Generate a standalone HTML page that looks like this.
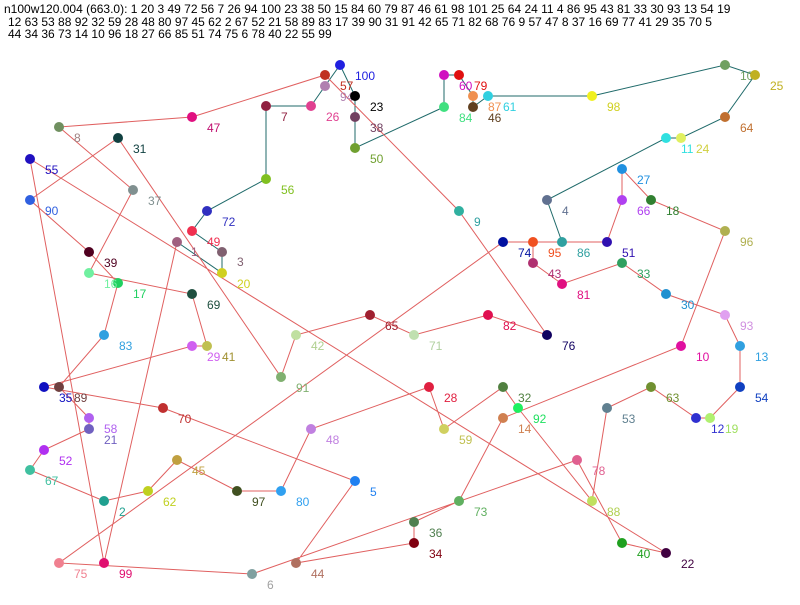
<!DOCTYPE html>
<html><head><meta charset="utf-8"><style>
body{margin:0;background:#fff;width:800px;height:600px;overflow:hidden}
svg text{font-family:"Liberation Sans",sans-serif;font-size:12px}
.h{font-size:12px;fill:#000}
</style></head><body>
<svg width="800" height="600" xmlns="http://www.w3.org/2000/svg">
<text class="h" x="4" y="13">n100w120.004 (663.0): 1 20 3 49 72 56 7 26 94 100 23 38 50 15 84 60 79 87 46 61 98 101 25 64 24 11 4 86 95 43 81 33 30 93 13 54 19</text>
<text class="h" x="8" y="26">12 63 53 88 92 32 59 28 48 80 97 45 62 2 67 52 21 58 89 83 17 39 90 31 91 42 65 71 82 68 76 9 57 47 8 37 16 69 77 41 29 35 70 5</text>
<text class="h" x="8" y="38">44 34 36 73 14 10 96 18 27 66 85 51 74 75 6 78 40 22 55 99</text>
<g fill="none" stroke-width="1">
<polyline stroke="#1f6a6a" points="177,242 222,273 222,252 192,231 207,211 266,179 266,106 311,106 325,86 340,65 355,96 355,117 355,148 355,148 444,107 444,75 459,75 473,96 473,107 488,96 592,96 725,65 755,75 725,117 681,138 666,138 547,200 562,242"/>
<polyline stroke="#e06060" points="562,242 533,242 533,263 562,284 622,263 666,294 725,315 740,346 740,387 710,418 696,418 651,387 607,408 592,501 518,408 503,387 444,429 429,387 311,429 281,491 237,491 177,460 148,491 104,501 30,470 44,450 89,429 89,418 59,387 104,335 118,283 89,252 30,200 118,138 281,377 296,335 370,315 414,335 488,315 488,315 547,335 459,211 325,75 192,117 59,127 133,190 89,273 192,294 207,346 207,346 192,346 44,387 163,408 355,481 296,563 414,543 414,522 459,501 503,418 681,346 725,231 651,200 622,169 622,200 607,242 607,242 503,242 59,563 252,574 577,460 622,543 666,553 30,159 104,563 177,242"/>
</g>
<g id="n">
<circle cx="177" cy="242" r="5" fill="#a06080"/><text x="191" y="256" fill="#a06080">1</text>
<circle cx="222" cy="273" r="5" fill="#d0d020"/><text x="237" y="288" fill="#d0d020">20</text>
<circle cx="222" cy="252" r="5" fill="#806070"/><text x="237" y="266" fill="#806070">3</text>
<circle cx="192" cy="231" r="5" fill="#f03050"/><text x="207" y="246" fill="#f03050">49</text>
<circle cx="207" cy="211" r="5" fill="#3030c0"/><text x="222" y="226" fill="#3030c0">72</text>
<circle cx="266" cy="179" r="5" fill="#80c020"/><text x="281" y="194" fill="#80c020">56</text>
<circle cx="266" cy="106" r="5" fill="#902040"/><text x="281" y="121" fill="#902040">7</text>
<circle cx="311" cy="106" r="5" fill="#e04090"/><text x="326" y="121" fill="#e04090">26</text>
<circle cx="325" cy="86" r="5" fill="#b080b0"/><text x="340" y="101" fill="#b080b0">94</text>
<circle cx="340" cy="65" r="5" fill="#2020e0"/><text x="355" y="80" fill="#2020e0">100</text>
<circle cx="355" cy="96" r="5" fill="#000"/><text x="370" y="111" fill="#000">23</text>
<circle cx="355" cy="117" r="5" fill="#704060"/><text x="370" y="132" fill="#704060">38</text>
<circle cx="355" cy="148" r="5" fill="#70a030"/><text x="370" y="163" fill="#70a030">50</text>
<circle cx="444" cy="107" r="5" fill="#40e080"/><text x="459" y="122" fill="#40e080">84</text>
<circle cx="444" cy="75" r="5" fill="#d010c0"/><text x="459" y="90" fill="#d010c0">60</text>
<circle cx="459" cy="75" r="5" fill="#e01010"/><text x="474" y="90" fill="#e01010">79</text>
<circle cx="473" cy="96" r="5" fill="#f09050"/><text x="488" y="111" fill="#f09050">87</text>
<circle cx="473" cy="107" r="5" fill="#604020"/><text x="488" y="122" fill="#604020">46</text>
<circle cx="488" cy="96" r="5" fill="#30d0e0"/><text x="503" y="111" fill="#30d0e0">61</text>
<circle cx="592" cy="96" r="5" fill="#f0f020"/><text x="607" y="111" fill="#d0d020">98</text>
<circle cx="725" cy="65" r="5" fill="#70a060"/><text x="740" y="80" fill="#70a060">10</text>
<circle cx="755" cy="75" r="5" fill="#c0b020"/><text x="770" y="90" fill="#c0b020">25</text>
<circle cx="725" cy="117" r="5" fill="#c07030"/><text x="740" y="132" fill="#c07030">64</text>
<circle cx="681" cy="138" r="5" fill="#e0f060"/><text x="696" y="153" fill="#d0d040">24</text>
<circle cx="666" cy="138" r="5" fill="#30e0e0"/><text x="681" y="153" fill="#30e0e0">11</text>
<circle cx="547" cy="200" r="5" fill="#607090"/><text x="562" y="215" fill="#607090">4</text>
<circle cx="562" cy="242" r="5" fill="#30a0a0"/><text x="577" y="257" fill="#30a0a0">86</text>
<circle cx="533" cy="242" r="5" fill="#f05020"/><text x="548" y="257" fill="#f05020">95</text>
<circle cx="533" cy="263" r="5" fill="#b03070"/><text x="548" y="278" fill="#b03070">43</text>
<circle cx="562" cy="284" r="5" fill="#e01080"/><text x="577" y="299" fill="#e01080">81</text>
<circle cx="622" cy="263" r="5" fill="#30a060"/><text x="637" y="278" fill="#30a060">33</text>
<circle cx="666" cy="294" r="5" fill="#2090d0"/><text x="681" y="309" fill="#2090d0">30</text>
<circle cx="725" cy="315" r="5" fill="#e0a0f0"/><text x="740" y="330" fill="#d090e0">93</text>
<circle cx="740" cy="346" r="5" fill="#30a0e0"/><text x="755" y="361" fill="#30a0e0">13</text>
<circle cx="740" cy="387" r="5" fill="#1040c0"/><text x="755" y="402" fill="#1040c0">54</text>
<circle cx="710" cy="418" r="5" fill="#b0f070"/><text x="725" y="433" fill="#a0e060">19</text>
<circle cx="696" cy="418" r="5" fill="#3030d0"/><text x="711" y="433" fill="#3030d0">12</text>
<circle cx="651" cy="387" r="5" fill="#709030"/><text x="666" y="402" fill="#709030">63</text>
<circle cx="607" cy="408" r="5" fill="#608090"/><text x="622" y="423" fill="#608090">53</text>
<circle cx="592" cy="501" r="5" fill="#c0e060"/><text x="607" y="516" fill="#b0d050">88</text>
<circle cx="518" cy="408" r="5" fill="#20f060"/><text x="533" y="423" fill="#20e060">92</text>
<circle cx="503" cy="387" r="5" fill="#508040"/><text x="518" y="402" fill="#508040">32</text>
<circle cx="444" cy="429" r="5" fill="#d0d060"/><text x="459" y="444" fill="#c0c050">59</text>
<circle cx="429" cy="387" r="5" fill="#e02040"/><text x="444" y="402" fill="#e02040">28</text>
<circle cx="311" cy="429" r="5" fill="#c080e0"/><text x="326" y="444" fill="#c080e0">48</text>
<circle cx="281" cy="491" r="5" fill="#30a0f0"/><text x="296" y="506" fill="#30a0f0">80</text>
<circle cx="237" cy="491" r="5" fill="#405020"/><text x="252" y="506" fill="#405020">97</text>
<circle cx="177" cy="460" r="5" fill="#c0a040"/><text x="192" y="475" fill="#c0a040">45</text>
<circle cx="148" cy="491" r="5" fill="#c0d020"/><text x="163" y="506" fill="#c0d020">62</text>
<circle cx="104" cy="501" r="5" fill="#20a090"/><text x="119" y="516" fill="#20a090">2</text>
<circle cx="30" cy="470" r="5" fill="#40c0a0"/><text x="45" y="485" fill="#40c0a0">67</text>
<circle cx="44" cy="450" r="5" fill="#b030f0"/><text x="59" y="465" fill="#b030f0">52</text>
<circle cx="89" cy="429" r="5" fill="#7060c0"/><text x="104" y="444" fill="#7060c0">21</text>
<circle cx="89" cy="418" r="5" fill="#b060f0"/><text x="104" y="433" fill="#b060f0">58</text>
<circle cx="59" cy="387" r="5" fill="#704040"/><text x="74" y="402" fill="#704040">89</text>
<circle cx="104" cy="335" r="5" fill="#30a0e0"/><text x="119" y="350" fill="#30a0e0">83</text>
<circle cx="118" cy="283" r="5" fill="#20d060"/><text x="133" y="298" fill="#20d060">17</text>
<circle cx="89" cy="252" r="5" fill="#500020"/><text x="104" y="267" fill="#500020">39</text>
<circle cx="30" cy="200" r="5" fill="#3060e0"/><text x="45" y="215" fill="#3060e0">90</text>
<circle cx="118" cy="138" r="5" fill="#104040"/><text x="133" y="153" fill="#104040">31</text>
<circle cx="281" cy="377" r="5" fill="#80b070"/><text x="296" y="392" fill="#80b070">91</text>
<circle cx="296" cy="335" r="5" fill="#c0e0a0"/><text x="311" y="350" fill="#b0d090">42</text>
<circle cx="370" cy="315" r="5" fill="#a02030"/><text x="385" y="330" fill="#a02030">65</text>
<circle cx="414" cy="335" r="5" fill="#c0e0b0"/><text x="429" y="350" fill="#b0d0a0">71</text>
<circle cx="488" cy="315" r="5" fill="#e01050"/><text x="503" y="330" fill="#e01050">82</text>
<circle cx="547" cy="335" r="5" fill="#100060"/><text x="562" y="350" fill="#100060">76</text>
<circle cx="459" cy="211" r="5" fill="#30b0a0"/><text x="474" y="226" fill="#30a0a0">9</text>
<circle cx="325" cy="75" r="5" fill="#c03020"/><text x="340" y="90" fill="#c03020">57</text>
<circle cx="192" cy="117" r="5" fill="#e01080"/><text x="207" y="132" fill="#c01070">47</text>
<circle cx="59" cy="127" r="5" fill="#709060"/><text x="74" y="142" fill="#a08080">8</text>
<circle cx="133" cy="190" r="5" fill="#809090"/><text x="148" y="205" fill="#809090">37</text>
<circle cx="89" cy="273" r="5" fill="#70f0a0"/><text x="104" y="288" fill="#70f0a0">16</text>
<circle cx="192" cy="294" r="5" fill="#205040"/><text x="207" y="309" fill="#205040">69</text>
<circle cx="207" cy="346" r="5" fill="#c0c050"/><text x="222" y="361" fill="#a09030">41</text>
<circle cx="192" cy="346" r="5" fill="#d060f0"/><text x="207" y="361" fill="#d060f0">29</text>
<circle cx="44" cy="387" r="5" fill="#1010c0"/><text x="59" y="402" fill="#1010c0">35</text>
<circle cx="163" cy="408" r="5" fill="#c03030"/><text x="178" y="423" fill="#c03030">70</text>
<circle cx="355" cy="481" r="5" fill="#2080f0"/><text x="370" y="496" fill="#2080f0">5</text>
<circle cx="296" cy="563" r="5" fill="#b07060"/><text x="311" y="578" fill="#b07060">44</text>
<circle cx="414" cy="543" r="5" fill="#800010"/><text x="429" y="558" fill="#800010">34</text>
<circle cx="414" cy="522" r="5" fill="#508050"/><text x="429" y="537" fill="#508050">36</text>
<circle cx="459" cy="501" r="5" fill="#60b060"/><text x="474" y="516" fill="#60b060">73</text>
<circle cx="503" cy="418" r="5" fill="#d08050"/><text x="518" y="433" fill="#d08050">14</text>
<circle cx="681" cy="346" r="5" fill="#e010a0"/><text x="696" y="361" fill="#e010a0">10</text>
<circle cx="725" cy="231" r="5" fill="#b0b050"/><text x="740" y="246" fill="#b0b050">96</text>
<circle cx="651" cy="200" r="5" fill="#308030"/><text x="666" y="215" fill="#308030">18</text>
<circle cx="622" cy="169" r="5" fill="#2090e0"/><text x="637" y="184" fill="#2090e0">27</text>
<circle cx="622" cy="200" r="5" fill="#b040f0"/><text x="637" y="215" fill="#b040f0">66</text>
<circle cx="607" cy="242" r="5" fill="#3010b0"/><text x="622" y="257" fill="#3010b0">51</text>
<circle cx="503" cy="242" r="5" fill="#0010a0"/><text x="518" y="257" fill="#0010a0">74</text>
<circle cx="59" cy="563" r="5" fill="#f08090"/><text x="74" y="578" fill="#f08090">75</text>
<circle cx="252" cy="574" r="5" fill="#80a0a0"/><text x="267" y="589" fill="#a0a0a0">6</text>
<circle cx="577" cy="460" r="5" fill="#e06090"/><text x="592" y="475" fill="#e06090">78</text>
<circle cx="622" cy="543" r="5" fill="#20a020"/><text x="637" y="558" fill="#20a020">40</text>
<circle cx="666" cy="553" r="5" fill="#400040"/><text x="681" y="568" fill="#400040">22</text>
<circle cx="30" cy="159" r="5" fill="#2010c0"/><text x="45" y="174" fill="#2010c0">55</text>
<circle cx="104" cy="563" r="5" fill="#e01070"/><text x="119" y="578" fill="#e01070">99</text>
</g>
</svg>
</body></html>
